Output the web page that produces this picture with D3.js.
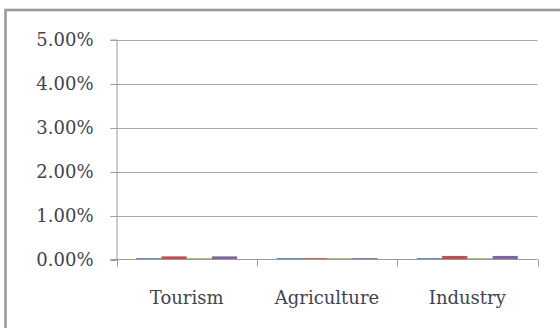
<!DOCTYPE html>
<html>
<head>
<meta charset="utf-8">
<script src="https://cdn.jsdelivr.net/npm/d3@7"></script>
<style>
  html, body { margin: 0; padding: 0; background: #fff; }
  svg { display: block; }
</style>
</head>
<body>
<svg id="chart" width="560" height="328"></svg>
<script>
const categories = ["Tourism", "Agriculture", "Industry"];
const seriesNames = ["Series 1", "Series 2", "Series 3", "Series 4"];
const seriesColors = ["#4F81BD", "#C0504D", "#9BBB59", "#8064A2"];
const series1 = [0.0002, 0.0002, 0.0002];
const series2 = [0.0006, 0.0002, 0.0007];
const series3 = [0.0002, 0.0002, 0.0002];
const series4 = [0.0006, 0.0002, 0.0007];
const yTicks = [0, 0.01, 0.02, 0.03, 0.04, 0.05];

const seriesValues = [series1, series2, series3, series4];
const svg = d3.select("#chart");

// outer chart border (extends past right/bottom edges)
svg.append("rect")
  .attr("x", 5.5).attr("y", 10)
  .attr("width", 700).attr("height", 500)
  .attr("fill", "none")
  .attr("stroke", "#9a9a9a")
  .attr("stroke-width", 2.6);

const plotLeft = 116.5, plotRight = 537.5, plotTop = 39.5, plotBottom = 259.5;

const x = d3.scaleBand().domain(categories).range([plotLeft, plotRight]).paddingInner(0).paddingOuter(0);
const xs = d3.scaleBand().domain(seriesNames).range([0, x.bandwidth()]).paddingOuter(0.78).paddingInner(0);
const y = d3.scaleLinear().domain([0, 0.05]).range([plotBottom, plotTop]);

// gridlines
svg.append("g").selectAll("line").data(yTicks.filter(t => t > 0)).join("line")
  .attr("x1", plotLeft).attr("x2", plotRight)
  .attr("y1", d => Math.round(y(d)) + 0.5).attr("y2", d => Math.round(y(d)) + 0.5)
  .attr("stroke", "#a8a8a8").attr("stroke-width", 1);

// bars
const groups = svg.append("g").selectAll("g").data(categories).join("g")
  .attr("transform", d => `translate(${x(d)},0)`);
groups.selectAll("rect").data((d, i) => seriesNames.map((s, j) => ({ s, v: seriesValues[j][i], c: seriesColors[j] })))
  .join("rect")
  .attr("x", d => xs(d.s))
  .attr("width", xs.bandwidth())
  .attr("y", d => y(d.v) - 0.5)
  .attr("height", d => y(0) - y(d.v) + 0.5)
  .attr("fill", d => d.c);

// y axis
const yAxis = d3.axisLeft(y).tickValues(yTicks).tickFormat(d3.format(".2%")).tickSize(6).tickPadding(17);
const gy = svg.append("g").attr("transform", `translate(${plotLeft},0)`).call(yAxis);
gy.select(".domain").attr("stroke", "#9a9a9a");
gy.selectAll(".tick line").attr("stroke", "#9a9a9a");
gy.selectAll(".tick text")
  .attr("font-family", "DejaVu Serif").attr("font-size", 18).attr("fill", "#3e4550");
gy.selectAll(".tick").attr("transform", d => `translate(0,${Math.round(y(d)) + 0.5})`);

// x axis
const gx = svg.append("g").attr("transform", `translate(0,${plotBottom})`);
gx.append("line").attr("x1", plotLeft - 6).attr("x2", plotRight).attr("stroke", "#9a9a9a");
const bounds = [plotLeft, ...categories.map(c => x(c) + x.bandwidth())];
gx.selectAll("line.t").data(bounds).join("line").attr("class", "t")
  .attr("x1", d => Math.round(d) + 0.5).attr("x2", d => Math.round(d) + 0.5)
  .attr("y1", 0).attr("y2", 7).attr("stroke", "#9a9a9a");
gx.selectAll("text").data(categories).join("text")
  .attr("x", d => x(d) + x.bandwidth() / 2)
  .attr("y", 44)
  .attr("text-anchor", "middle")
  .attr("font-family", "DejaVu Serif").attr("font-size", 18).attr("fill", "#3e4550")
  .text(d => d);
</script>
</body>
</html>
